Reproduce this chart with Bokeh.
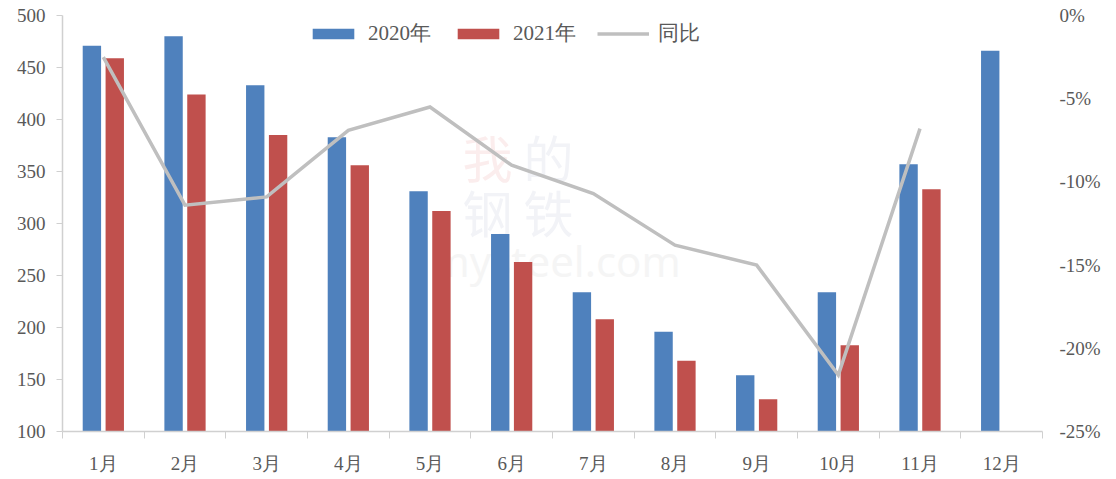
from bokeh.plotting import figure
from bokeh.models import (Range1d, LinearAxis, FixedTicker, PrintfTickFormatter,
                          ColumnDataSource, Legend, LegendItem, Label)
from bokeh.embed import file_html
from bokeh.resources import INLINE

months = ["1月", "2月", "3月", "4月", "5月", "6月", "7月", "8月", "9月", "10月", "11月", "12月"]
v2020 = [471, 480, 433, 383, 331, 290, 234, 196, 154, 234, 357, 466]
v2021 = [459, 424, 385, 356, 312, 263, 208, 168, 131, 183, 333]
yoy = [-2.5, -11.4, -10.9, -6.9, -5.5, -9.0, -10.7, -13.8, -15.0, -21.6, -6.8]

BLUE = "#4F81BD"
RED = "#C0504D"
GRAY = "#BFBFBF"
FONT = "Liberation Serif"
TXT = "#595959"

centers = [i + 0.5 for i in range(len(months))]
src20 = ColumnDataSource(dict(x=[c - 0.14 for c in centers], top=v2020))
src21 = ColumnDataSource(dict(x=[c + 0.14 for c in centers[:len(v2021)]], top=v2021))
srcl = ColumnDataSource(dict(x=centers[:len(yoy)], y=yoy))

p = figure(width=1110, height=476, output_backend="svg", toolbar_location=None,
           x_range=Range1d(0, 12), y_range=Range1d(100, 500),
           min_border_left=62, min_border_right=68, min_border_top=15, min_border_bottom=43)
p.outline_line_color = None
p.xgrid.visible = False
p.ygrid.visible = False
p.background_fill_color = "white"
p.border_fill_color = "white"

p.extra_y_ranges = {"pct": Range1d(-25, 0)}

# watermark
for txt, xx, yy, col in [("我", 400, 240, "#FBEDED"), ("的", 461, 240, "#F2F3F7"),
                         ("钢", 400, 185, "#F2F3F7"), ("铁", 461, 185, "#F2F3F7")]:
    p.add_layout(Label(x=xx, y=yy, x_units="screen", y_units="screen", text=txt,
                       text_font_size="50px", text_color=col, text_font="Noto Sans CJK SC",
                       level="underlay"))
p.add_layout(Label(x=368, y=143, x_units="screen", y_units="screen", text="mysteel.com",
                   text_font_size="42px", text_color="#F5F5F5", text_font="Noto Sans",
                   level="underlay"))

r20 = p.vbar(x="x", top="top", bottom=100, width=0.225, source=src20,
             fill_color=BLUE, line_color=None)
r21 = p.vbar(x="x", top="top", bottom=100, width=0.225, source=src21,
             fill_color=RED, line_color=None)
rl = p.line(x="x", y="y", source=srcl, y_range_name="pct",
            line_color=GRAY, line_width=3.5, line_join="miter")

# x axis
xa = p.xaxis[0]
xa.ticker = FixedTicker(ticks=centers, minor_ticks=list(range(0, 13)))
xa.major_label_overrides = {c: m for c, m in zip(centers, months)}
xa.major_tick_out = 0
xa.major_tick_in = 0
xa.minor_tick_out = 7
xa.minor_tick_in = 0
xa.minor_tick_line_color = "#D0D0D0"
xa.axis_line_color = "#D0D0D0"
xa.axis_line_width = 1.5
xa.major_label_standoff = 14
xa.major_label_text_font = FONT
xa.major_label_text_font_size = "19px"
xa.major_label_text_color = TXT

# left axis
ya = p.yaxis[0]
ya.ticker = FixedTicker(ticks=list(range(100, 501, 50)))
ya.major_tick_out = 6
ya.major_tick_in = 0
ya.minor_tick_out = 0
ya.minor_tick_in = 0
ya.axis_line_color = "#D0D0D0"
ya.axis_line_width = 1.5
ya.major_tick_line_color = "#D0D0D0"
ya.major_label_standoff = 11
ya.major_label_text_font = FONT
ya.major_label_text_font_size = "19px"
ya.major_label_text_color = TXT

# right axis
ra = LinearAxis(y_range_name="pct", ticker=FixedTicker(ticks=[-25, -20, -15, -10, -5, 0]),
                formatter=PrintfTickFormatter(format="%d%%"))
ra.axis_line_color = None
ra.major_tick_line_color = None
ra.minor_tick_line_color = None
ra.major_label_standoff = 11
ra.major_label_text_font = FONT
ra.major_label_text_font_size = "19px"
ra.major_label_text_color = TXT
p.add_layout(ra, "right")

legend = Legend(items=[LegendItem(label="2020年", renderers=[r20]),
                       LegendItem(label="2021年", renderers=[r21]),
                       LegendItem(label="同比", renderers=[rl])],
                orientation="horizontal", location=(245, 384),
                glyph_width=52, glyph_height=13, label_height=13,
                label_standoff=9, spacing=21, padding=0, margin=0,
                background_fill_alpha=0, border_line_color=None,
                label_text_font=FONT, label_text_font_size="21px",
                label_text_color=TXT)
p.add_layout(legend, "center")

open("out.html", "w").write(file_html(p, INLINE))
